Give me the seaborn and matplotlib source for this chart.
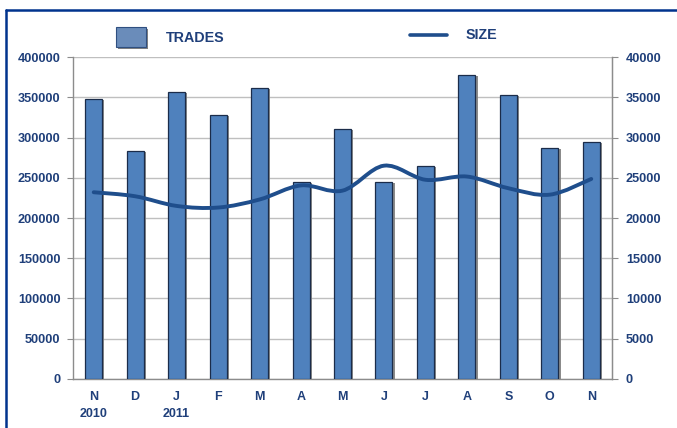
import numpy as np
import pandas as pd
import seaborn as sns
import matplotlib.pyplot as plt
import matplotlib.patheffects as pe
from matplotlib.path import Path
from matplotlib.patches import PathPatch, Rectangle
from matplotlib.lines import Line2D

# Data
months = ["N\n2010", "D", "J\n2011", "F", "M", "A", "M", "J", "J", "A", "S", "O", "N"]
trades = [348000, 283000, 357000, 328000, 361500, 244500, 310500,
          244500, 264500, 378000, 353000, 287000, 294000]
size = [23200, 22700, 21500, 21300, 22300, 24050, 23400,
        26500, 24750, 25150, 23700, 22900, 24850]

TEXT = "#1F3F7A"
BAR = "#4F81BD"
LINE = "#1F4E8C"
GRID = "#BFBFBF"
AXIS = "#8C8C8C"


def smooth_path(xs, ys):
    # Excel-style smoothed line: cubic Bezier through every data point
    pts = np.column_stack([xs, ys]).astype(float)
    n = len(pts)
    verts = [pts[0]]
    codes = [Path.MOVETO]
    for i in range(n - 1):
        p0 = pts[i - 1] if i > 0 else pts[i]
        p1 = pts[i]
        p2 = pts[i + 1]
        p3 = pts[i + 2] if i + 2 < n else pts[i + 1]
        c1 = p1 + (p2 - p0) / 6.0
        c2 = p2 - (p3 - p1) / 6.0
        verts += [c1, c2, p2]
        codes += [Path.CURVE4] * 3
    return Path(verts, codes)


def main():
    sns.set_style("white")
    plt.rcParams["font.family"] = ["Liberation Sans", "DejaVu Sans"]
    plt.rcParams["font.weight"] = "bold"

    data = pd.DataFrame({"key": [f"k{i}" for i in range(len(months))],
                         "trades": trades})

    fig = plt.figure(figsize=(6.77, 4.28), dpi=100)
    ax = fig.add_axes([0.1078, 0.1145, 0.7962, 0.7523])

    sns.barplot(data=data, x="key", y="trades", color=BAR, width=0.41,
                saturation=1, edgecolor="#1B2C4A", linewidth=0.9, ax=ax, zorder=3)
    for p in ax.patches:
        p.set_path_effects([pe.SimplePatchShadow(offset=(1.6, -0.8), shadow_rgbFace="#7F7F7F", alpha=0.9),
                            pe.Normal()])

    ax.set_xlim(-0.5, len(months) - 0.5)
    ax.set_ylim(0, 400000)
    ax.set_yticks(np.arange(0, 400001, 50000))
    ax.yaxis.grid(True, color=GRID, linewidth=1.0, zorder=0)
    ax.set_axisbelow(True)
    ax.set_xlabel("")
    ax.set_ylabel("")
    ax.set_xticks(range(len(months)))
    ax.set_xticklabels(months, color=TEXT, fontsize=9, fontweight="bold", linespacing=1.45,
                       va="top")
    ax.set_xticks(np.arange(-0.5, len(months), 1.0), minor=True)
    ax.tick_params(axis="x", which="major", length=0, pad=9)
    ax.tick_params(axis="x", which="minor", length=4, color=AXIS, direction="out")
    ax.tick_params(axis="y", length=4, color=AXIS, direction="out", pad=5,
                   labelcolor=TEXT, labelsize=9.2)
    for lab in ax.get_yticklabels():
        lab.set_fontweight("bold")

    for side in ["left", "bottom", "right"]:
        ax.spines[side].set_color(AXIS)
        ax.spines[side].set_linewidth(1.0)
    ax.spines["top"].set_visible(False)

    ax2 = ax.twinx()
    ax2.set_ylim(0, 40000)
    ax2.set_yticks(np.arange(0, 40001, 5000))
    ax2.tick_params(axis="y", length=4, color=AXIS, direction="out", pad=6,
                    labelcolor=TEXT, labelsize=9.2)
    for lab in ax2.get_yticklabels():
        lab.set_fontweight("bold")
    for side in ["left", "bottom", "top"]:
        ax2.spines[side].set_visible(False)
    ax2.spines["right"].set_color(AXIS)

    path = smooth_path(np.arange(len(size)), size)
    ax2.add_patch(PathPatch(path, facecolor="none", edgecolor=LINE, linewidth=2.8,
                            capstyle="round", zorder=5))

    # legend
    fig.patches.append(Rectangle((118 / 677, 1 - 49 / 428), 30 / 677, 20 / 428,
                                 transform=fig.transFigure, facecolor="#808080",
                                 edgecolor="none"))
    fig.patches.append(Rectangle((116 / 677, 1 - 47 / 428), 30 / 677, 20 / 428,
                                 transform=fig.transFigure, facecolor="#6A8CBA",
                                 edgecolor="#2F4F80", linewidth=0.8))
    fig.text(166 / 677, 1 - 38 / 428, "TRADES", color=TEXT, fontsize=10.3,
             fontweight="bold", va="center", ha="left")
    fig.lines.append(Line2D([410 / 677, 447 / 677], [1 - 35 / 428, 1 - 35 / 428],
                            transform=fig.transFigure, color=LINE, linewidth=2.6))
    fig.text(466 / 677, 1 - 35 / 428, "SIZE", color=TEXT, fontsize=10.3,
             fontweight="bold", va="center", ha="left")

    # frame around the chart
    bx, by = 6 / 677, 1 - 10 / 428
    fig.lines.append(Line2D([bx, bx], [0, by], transform=fig.transFigure,
                            color="#00338D", linewidth=1.8))
    fig.lines.append(Line2D([bx, 1.01], [by, by], transform=fig.transFigure,
                            color="#00338D", linewidth=1.8))

    fig.savefig("out.png", dpi=100)


if __name__ == "__main__":
    main()
